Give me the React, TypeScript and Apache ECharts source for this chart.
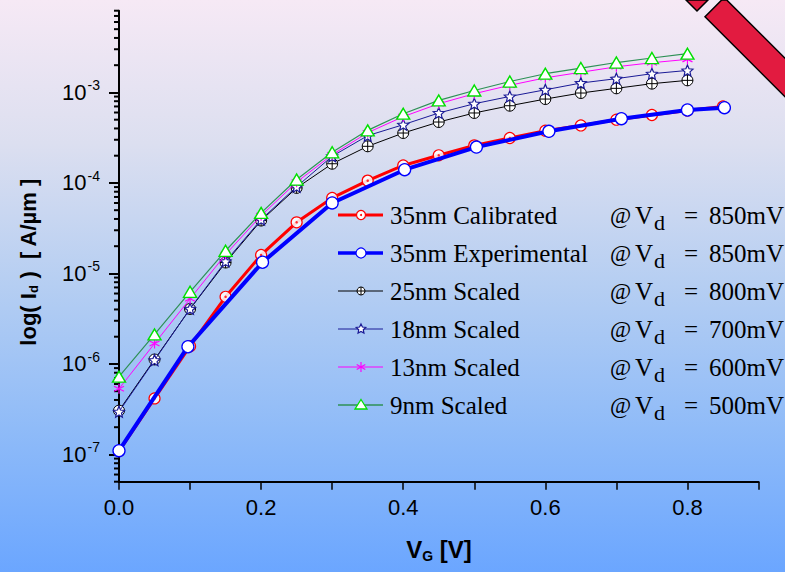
import React, { useEffect, useRef } from 'react';
import * as echarts from 'echarts';

// ---------- data ----------
const vgScaled = [0, 0.05, 0.1, 0.15, 0.2, 0.25, 0.3, 0.35, 0.4, 0.45, 0.5, 0.55, 0.6, 0.65, 0.7, 0.75, 0.8];
const vgCal = [0, 0.05, 0.1, 0.15, 0.2, 0.25, 0.3, 0.35, 0.4, 0.45, 0.5, 0.55, 0.6, 0.65, 0.7, 0.75, 0.8, 0.85];
const vgExp = [0, 0.097, 0.202, 0.3, 0.402, 0.503, 0.605, 0.707, 0.8, 0.852];

const id35Cal = [1.09e-7, 4.16e-7, 1.57e-6, 5.52e-6, 1.6e-5, 3.67e-5, 6.83e-5, 1.06e-4, 1.56e-4, 2.02e-4, 2.6e-4, 3.14e-4, 3.78e-4, 4.32e-4, 5.0e-4, 5.63e-4, 6.33e-4, 7.0e-4];
const id35Exp = [1.1e-7, 1.55e-6, 1.33e-5, 6.01e-5, 1.4e-4, 2.49e-4, 3.72e-4, 5.13e-4, 6.4e-4, 6.78e-4];
const id25 = [3.05e-7, 1.12e-6, 4.05e-6, 1.32e-5, 3.84e-5, 8.81e-5, 1.63e-4, 2.54e-4, 3.56e-4, 4.71e-4, 5.93e-4, 7.13e-4, 8.45e-4, 9.85e-4, 1.11e-3, 1.25e-3, 1.36e-3];
const id18 = [2.97e-7, 1.1e-6, 4.07e-6, 1.36e-5, 3.94e-5, 9.1e-5, 1.97e-4, 3.33e-4, 4.4e-4, 5.93e-4, 7.5e-4, 9.03e-4, 1.07e-3, 1.27e-3, 1.42e-3, 1.61e-3, 1.75e-3];
const id13 = [5.32e-7, 1.68e-6, 5.25e-6, 1.62e-5, 4.35e-5, 1.02e-4, 2.05e-4, 3.59e-4, 5.4e-4, 7.5e-4, 9.68e-4, 1.2e-3, 1.45e-3, 1.67e-3, 1.92e-3, 2.13e-3, 2.32e-3];
const id9 = [7.23e-7, 2.12e-6, 6.27e-6, 1.78e-5, 4.67e-5, 1.09e-4, 2.18e-4, 3.81e-4, 5.82e-4, 8.16e-4, 1.05e-3, 1.32e-3, 1.61e-3, 1.86e-3, 2.14e-3, 2.4e-3, 2.68e-3];

const legendNames = ['35nm Calibrated', '35nm Experimental', '25nm Scaled', '18nm Scaled', '13nm Scaled', '9nm Scaled'];
const legendVd = ['850mV', '850mV', '800mV', '700mV', '600mV', '500mV'];

const yMajorTicks = [1e-7, 1e-6, 1e-5, 1e-4, 1e-3];
const yMinorMultipliers = [2, 3, 4, 5, 6, 7, 8, 9];
const yMinorDecades = [1e-8, 1e-7, 1e-6, 1e-5, 1e-4, 1e-3];
const Y_MIN = 5e-8;
const Y_MAX = 8e-3;

// ---------- styling ----------
const SANS = '"Liberation Sans", Arial, sans-serif';
const SERIF = '"Liberation Serif", "Times New Roman", serif';
const RED = '#FF0000';
const BLUE = '#0000FF';
const NAVY = '#1A1A96';
const MAGENTA = '#FF00FF';
const GREEN_LINE = '#2E9156';
const GREEN_MARK = '#00E000';

const starPath = (() => {
  const pts: string[] = [];
  for (let i = 0; i < 10; i++) {
    const a = -Math.PI / 2 + (i * Math.PI) / 5;
    const r = i % 2 ? 4.6 : 10;
    pts.push(`${(r * Math.cos(a)).toFixed(2)},${(r * Math.sin(a)).toFixed(2)}`);
  }
  return 'path://M' + pts.join('L') + 'Z';
})();
const oplusPath = 'path://M0,-10A10,10,0,1,1,0,10A10,10,0,1,1,0,-10ZM-10,0L10,0M0,-10L0,10';
const asteriskPath = 'path://M0,-10L0,10M-8.66,-5L8.66,5M-8.66,5L8.66,-5';

const pair = (xs: number[], ys: number[]) => ys.map((y, i) => [xs[i], y]);

function legendGraphics() {
  const els: any[] = [];
  const x0 = 338, x1 = 383, mx = 361;
  legendNames.forEach((name, i) => {
    const y = 215 + i * 38;
    const lineStyles = [
      { stroke: RED, lineWidth: 3 },
      { stroke: BLUE, lineWidth: 3.5 },
      { stroke: '#000', lineWidth: 1 },
      { stroke: NAVY, lineWidth: 1 },
      { stroke: MAGENTA, lineWidth: 1 },
      { stroke: GREEN_LINE, lineWidth: 1.5 },
    ];
    els.push({ type: 'line', shape: { x1: x0, y1: y, x2: x1, y2: y }, style: lineStyles[i], z: 10 });
    if (i === 0) {
      els.push({ type: 'circle', shape: { cx: mx, cy: y, r: 4.5 }, style: { fill: '#fff', stroke: RED, lineWidth: 1.2 }, z: 11 });
      els.push({ type: 'circle', shape: { cx: mx, cy: y, r: 1 }, style: { fill: RED }, z: 12 });
    } else if (i === 1) {
      els.push({ type: 'circle', shape: { cx: mx, cy: y, r: 5 }, style: { fill: '#fff', stroke: BLUE, lineWidth: 1.2 }, z: 11 });
    } else if (i === 2) {
      els.push({ type: 'circle', shape: { cx: mx, cy: y, r: 4 }, style: { fill: '#fff', stroke: '#000', lineWidth: 1 }, z: 11 });
      els.push({ type: 'line', shape: { x1: mx - 4, y1: y, x2: mx + 4, y2: y }, style: { stroke: '#000', lineWidth: 1 }, z: 12 });
      els.push({ type: 'line', shape: { x1: mx, y1: y - 4, x2: mx, y2: y + 4 }, style: { stroke: '#000', lineWidth: 1 }, z: 12 });
    } else if (i === 3) {
      const pts: number[][] = [];
      for (let k = 0; k < 10; k++) {
        const a = -Math.PI / 2 + (k * Math.PI) / 5;
        const r = k % 2 ? 2.4 : 5;
        pts.push([mx + r * Math.cos(a), y + r * Math.sin(a)]);
      }
      els.push({ type: 'polygon', shape: { points: pts }, style: { fill: '#fff', stroke: NAVY, lineWidth: 1.2 }, z: 11 });
    } else if (i === 4) {
      [[0, -5, 0, 5], [-4.3, -2.5, 4.3, 2.5], [-4.3, 2.5, 4.3, -2.5]].forEach((s) => {
        els.push({ type: 'line', shape: { x1: mx + s[0], y1: y + s[1], x2: mx + s[2], y2: y + s[3] }, style: { stroke: MAGENTA, lineWidth: 1.2 }, z: 11 });
      });
    } else {
      els.push({ type: 'polygon', shape: { points: [[mx, y - 5.5], [mx + 6, y + 4], [mx - 6, y + 4]] }, style: { fill: '#fff', stroke: GREEN_MARK, lineWidth: 1.3 }, z: 11 });
    }
    const txt = (x: number, yy: number, text: string, size: number, align = 'left') => ({
      type: 'text', x, y: yy, z: 10,
      style: { text, fontSize: size, fontFamily: SERIF, fill: '#000', align, verticalAlign: 'middle' },
    });
    els.push(txt(390, y, name, 25));
    els.push(txt(610, y, '@', 23));
    els.push(txt(635, y, 'V', 25));
    els.push(txt(654, y + 7, 'd', 22));
    els.push(txt(684, y, '=', 25));
    els.push(txt(784, y, legendVd[i], 25, 'right'));
  });
  return els;
}

export default function App() {
  const ref = useRef<HTMLDivElement>(null);

  useEffect(() => {
    if (!ref.current) return;
    const chart = echarts.init(ref.current, undefined, { renderer: 'svg' });

    const yMinorTicks: number[] = [];
    yMinorDecades.forEach((d) => yMinorMultipliers.forEach((m) => {
      const v = m * d;
      if (v >= Y_MIN * 0.999 && v <= Y_MAX * 1.001) yMinorTicks.push(v);
    }));

    const option: any = {
      animation: false,
      backgroundColor: 'transparent',
      grid: { left: 119, right: 26.5, top: 10.7, bottom: 90.3, containLabel: false, outerBoundsMode: 'none' },
      xAxis: {
        type: 'value',
        min: 0,
        max: 0.9,
        interval: 0.1,
        axisLine: { show: true, onZero: false, lineStyle: { color: '#000', width: 2 } },
        axisTick: { show: true, length: 8, lineStyle: { color: '#000', width: 1.5 } },
        axisLabel: {
          margin: 15,
          fontSize: 22,
          fontFamily: SANS,
          color: '#000',
          formatter: (v: number) => (Math.round(v * 10) % 2 === 0 && v < 0.85 ? v.toFixed(1) : ''),
        },
        splitLine: { show: false },
      },
      yAxis: {
        type: 'log',
        logBase: 10,
        min: Y_MIN,
        max: Y_MAX,
        axisLine: { show: true, onZero: false, lineStyle: { color: '#000', width: 2 } },
        axisTick: { show: true, length: 10, lineStyle: { color: '#000', width: 2 }, customValues: yMajorTicks },
        axisLabel: {
          margin: 19,
          customValues: yMajorTicks,
          formatter: (v: number) => `{b|10}{s|${Math.round(Math.log10(v))}}`,
          rich: {
            b: { fontSize: 22, fontFamily: SANS, color: '#000' },
            s: { fontSize: 14, fontFamily: SANS, color: '#000', padding: [0, 0, 14, 1] },
          },
        },
        splitLine: { show: false },
        minorTick: { show: false },
      },
      series: [
        {
          type: 'custom',
          name: 'minorTicks',
          clip: false,
          silent: true,
          data: yMinorTicks.map((v) => [0, v]),
          encode: { x: 0, y: 1 },
          renderItem: (params: any, api: any) => {
            const p = api.coord([0, api.value(1)]);
            return { type: 'line', shape: { x1: p[0] - 5, y1: p[1], x2: p[0], y2: p[1] }, style: { stroke: '#000', lineWidth: 2 } };
          },
          z: 1,
        },
        {
          type: 'line', name: legendNames[0], data: pair(vgCal, id35Cal),
          lineStyle: { color: RED, width: 3 },
          symbol: 'circle', symbolSize: 11,
          itemStyle: { color: 'rgba(255,255,255,0.85)', borderColor: RED, borderWidth: 1.2 },
          z: 2,
        },
        {
          type: 'scatter', name: 'calDots', data: pair(vgCal, id35Cal),
          symbol: 'circle', symbolSize: 2.5, itemStyle: { color: RED }, z: 3,
        },
        {
          type: 'line', name: legendNames[1], data: pair(vgExp, id35Exp),
          lineStyle: { color: BLUE, width: 4 },
          symbol: 'circle', symbolSize: 12,
          itemStyle: { color: '#fff', borderColor: BLUE, borderWidth: 1.3 },
          z: 4,
        },
        {
          type: 'line', name: legendNames[2], data: pair(vgScaled, id25),
          lineStyle: { color: '#000', width: 1 },
          symbol: oplusPath, symbolSize: 11,
          itemStyle: { color: '#fff', borderColor: '#000', borderWidth: 1 },
          z: 5,
        },
        {
          type: 'line', name: legendNames[3], data: pair(vgScaled, id18),
          lineStyle: { color: NAVY, width: 1 },
          symbol: starPath, symbolSize: 11,
          itemStyle: { color: '#fff', borderColor: NAVY, borderWidth: 1.2 },
          z: 6,
        },
        {
          type: 'line', name: legendNames[4], data: pair(vgScaled, id13),
          lineStyle: { color: MAGENTA, width: 1 },
          symbol: asteriskPath, symbolSize: 10,
          itemStyle: { color: 'transparent', borderColor: MAGENTA, borderWidth: 1.2 },
          z: 7,
        },
        {
          type: 'line', name: legendNames[5], data: pair(vgScaled, id9),
          lineStyle: { color: GREEN_LINE, width: 1.2 },
          symbol: 'triangle', symbolSize: [13, 11],
          itemStyle: { color: '#fff', borderColor: GREEN_MARK, borderWidth: 1.4 },
          z: 8,
        },
      ],
      graphic: [
        { type: 'polygon', shape: { points: [[686, 0], [697, 11], [708, 0]] }, style: { fill: '#E21B40', stroke: '#000', lineWidth: 1.5 }, z: 20 },
        { type: 'polygon', shape: { points: [[705, 16.7], [721.7, 0], [726.7, 0], [786, 59.3], [786, 97.7]] }, style: { fill: '#E21B40', stroke: '#000', lineWidth: 1.5 }, z: 20 },
        {
          type: 'text', x: 28, y: 262, rotation: Math.PI / 2, z: 10,
          style: {
            text: 'log( I{sub|d} )  [ A/µm ]',
            fontSize: 22, fontWeight: 'bold', fontFamily: SANS, fill: '#000',
            align: 'center', verticalAlign: 'middle',
            rich: { sub: { fontSize: 13, fontWeight: 'bold', fontFamily: SANS, fill: '#000', padding: [11, 0, 0, 0] } },
          },
        },
        {
          type: 'text', x: 439, y: 549, z: 10,
          style: {
            text: 'V{sub|G} [V]',
            fontSize: 24, fontWeight: 'bold', fontFamily: SANS, fill: '#000',
            align: 'center', verticalAlign: 'middle',
            rich: { sub: { fontSize: 14, fontWeight: 'bold', fontFamily: SANS, fill: '#000', padding: [13, 0, 0, 0] } },
          },
        },
        ...legendGraphics(),
      ],
    };

    chart.setOption(option);
    return () => chart.dispose();
  }, []);

  return (
    <div
      style={{
        position: 'fixed', left: 0, top: 0, width: 785, height: 572,
        background: 'linear-gradient(to bottom, #F6E9F5 0%, #DCDFF0 25%, #B5CEF2 50%, #8FBBF8 75%, #6BA6FF 100%)',
      }}
    >
      <div ref={ref} style={{ width: 785, height: 572 }} />
    </div>
  );
}
